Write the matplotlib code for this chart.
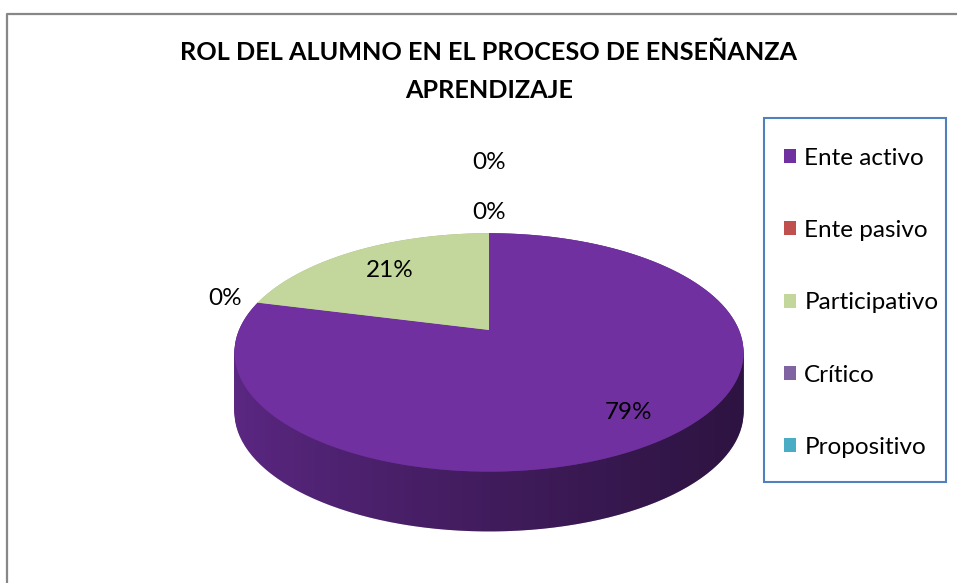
"""
rol del alumno en el proceso de ensenanza aprendizaje - pie 3D (estilo excel)
"""
import numpy as np
import matplotlib
matplotlib.use('Agg')
import matplotlib.pyplot as plt
from matplotlib.transforms import Transform, Affine2D
from matplotlib.path import Path
from matplotlib.patches import PathPatch, Rectangle
from matplotlib.colors import to_rgb

categorias = ['Ente activo', 'Ente pasivo', 'Participativo', 'Crítico', 'Propositivo']
valores = [79, 0, 21, 0, 0]
colores = ['#7030a0', '#c0504d', '#c3d69b', '#8064a2', '#4bacc6']
etiquetas = ['79%', '0%', '21%', '0%', '0%']

plt.rcParams['font.family'] = ['Lato', 'DejaVu Sans']

K = 0.188      # perspectiva
GROSOR = 0.52  # grosor del pastel
r_etiq = [0.80, 1.15, 0.72, 1.27, 2.0]


class Tilt(Transform):
    input_dims = output_dims = 2

    def __init__(self, k, drop=0.0):
        super().__init__()
        self.k = k
        self.drop = drop

    def transform_non_affine(self, v):
        v = np.asarray(v, float)
        w = 1 + self.k * v[:, 1]
        return np.column_stack([v[:, 0] / w, v[:, 1] / w - self.drop])

    def transform_path_non_affine(self, path):
        big = path.transformed(Affine2D().scale(400))
        polys = big.to_polygons(closed_only=True)
        if not polys:
            return Path(self.transform_non_affine(path.vertices), path.codes)
        verts = np.concatenate(polys) / 400
        return Path(self.transform_non_affine(verts), closed=True)


fig = plt.figure(figsize=(9.57, 5.83), dpi=100)
ax = fig.add_axes([0, 0, 1, 1])

# pared lateral: capas apiladas
for d in np.linspace(GROSOR, 0, 40):
    wall, _ = ax.pie(valores, colors=[tuple(0.85 * c for c in to_rgb(col)) for col in colores],
                     startangle=90, counterclock=False, wedgeprops=dict(linewidth=0))
    for w in wall:
        w.set_transform(Tilt(K, d) + ax.transData)
        w.set_zorder(1)

# sombreado de la pared
t_l = np.pi + np.arcsin(K)
t_r = 2 * np.pi - np.arcsin(K)
tt = np.linspace(t_l, t_r, 200)
arco = np.column_stack([np.cos(tt), np.sin(tt)])
arriba = Tilt(K).transform_non_affine(arco)
abajo = Tilt(K, GROSOR).transform_non_affine(arco[::-1])
pared = Path(np.concatenate([arriba, abajo]), closed=True)
grad = np.linspace(0, 1, 256) ** 0.8
sombra = np.zeros((2, 256, 4))
sombra[..., 3] = 0.03 + 0.5 * grad
im = ax.imshow(sombra, extent=[-1.05, 1.05, -0.3 - GROSOR - 1.3, 0.1], aspect='auto', zorder=2)
clip = PathPatch(pared, transform=ax.transData, facecolor='none', edgecolor='none')
ax.add_patch(clip)
im.set_clip_path(clip)

# cara superior
top, _ = ax.pie(valores, colors=colores, startangle=90, counterclock=False,
                wedgeprops=dict(linewidth=0))
tilt = Tilt(K)
for w in top:
    w.set_transform(tilt + ax.transData)
    w.set_zorder(3)

# etiquetas de datos
for w, txt, r in zip(top, etiquetas, r_etiq):
    ang = np.deg2rad((w.theta1 + w.theta2) / 2)
    x, y = tilt.transform_non_affine([[r * np.cos(ang), r * np.sin(ang)]])[0]
    ax.text(x, y, txt, ha='center', va='center', fontsize=17.5, zorder=4)

ax.set_aspect('auto')
ax.set_xlim(-489 / 250, (957 - 489) / 250)
ax.set_ylim((330 - 583) / 115, 330 / 115)
ax.axis('off')

fig.text(489 / 957, 1 - 53 / 583, 'ROL DEL ALUMNO EN EL PROCESO DE ENSEÑANZA',
         ha='center', va='center', fontsize=18.2, fontweight='bold')
fig.text(489 / 957, 1 - 90 / 583, 'APRENDIZAJE',
         ha='center', va='center', fontsize=18.2, fontweight='bold')

fig.legend(top, categorias, loc='upper left', bbox_to_anchor=(754 / 957, 1 - 118 / 583),
           frameon=False, fontsize=17.5, handlelength=0.5, handleheight=0.5,
           handletextpad=0.35, labelspacing=2.11, borderpad=1.22, borderaxespad=0)
# marco de la leyenda
fig.add_artist(Rectangle((763.5 / 957, 1 - 482 / 583), 182 / 957, 364 / 583, fill=False,
                         edgecolor='#4f81bd', linewidth=1.5, transform=fig.transFigure))

# borde del grafico
fig.add_artist(plt.Line2D([7.5 / 957, 7.5 / 957, 1], [0, 1 - 14 / 583, 1 - 14 / 583],
                          color='#878787', linewidth=1.6, transform=fig.transFigure))

plt.savefig('out.png', dpi=100)
